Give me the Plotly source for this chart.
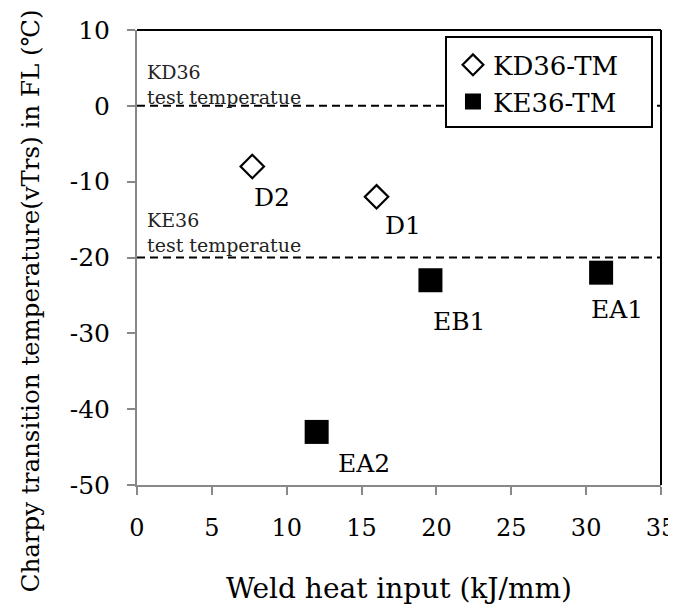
import plotly.graph_objects as go

# Data
kd_names = ["D2", "D1"]
kd_x = [7.7, 16.0]
kd_y = [-8, -12]

ke_names = ["EB1", "EA1", "EA2"]
ke_x = [19.6, 31.0, 12.0]
ke_y = [-23, -22, -43]

ref_levels = [0, -20]
ref_labels = ["KD36<br>test temperatue", "KE36<br>test temperatue"]

x_ticks = [0, 5, 10, 15, 20, 25, 30, 35]
y_ticks = [10, 0, -10, -20, -30, -40, -50]
y_ticktext = ["10", "0", "-10", "-20", "-30", "-40", "-50"]

x_title = "Weld heat input (kJ/mm)"
y_title = "Charpy transition temperature(vTrs) in FL (℃)"

FONT = "DejaVu Serif"

fig = go.Figure()

# dashed reference lines
for lv in ref_levels:
    fig.add_shape(type="line", xref="paper", yref="y", x0=0, x1=1.0, y0=lv, y1=lv,
                  line=dict(color="black", width=2, dash="8px,5px"))

# legend frame (white-filled box that interrupts the dashed line)
fig.add_shape(type="rect", xref="paper", yref="paper", x0=0.5897, x1=0.9828, y0=0.7868, y1=0.9846,
              line=dict(color="black", width=2), fillcolor="white", layer="above")

fig.add_trace(go.Scatter(
    x=kd_x, y=kd_y, mode="markers", name="KD36-TM",
    marker=dict(symbol="diamond-open", size=18, color="black", line=dict(width=2.2, color="black")),
))
fig.add_trace(go.Scatter(
    x=ke_x, y=ke_y, mode="markers", name="KE36-TM",
    marker=dict(symbol="square", size=24, color="black"),
))

# point labels (offsets from each point, in data units)
label_off = {"D2": (1.3, -4.15), "D1": (1.77, -3.72), "EB1": (1.97, -5.5), "EA1": (1.06, -4.9), "EA2": (3.16, -4.2)}
for n, x, y in zip(kd_names + ke_names, kd_x + ke_x, kd_y + ke_y):
    dx, dy = label_off[n]
    fig.add_annotation(x=x + dx, y=y + dy, text=n, showarrow=False,
                       font=dict(family=FONT, size=25, color="black"))

ref_label_off = [2.8, 3.35]
for lv, t, off in zip(ref_levels, ref_labels, ref_label_off):
    fig.add_annotation(x=0.53, y=lv + off, text=t, showarrow=False, xanchor="left", yanchor="middle",
                       align="left", font=dict(family=FONT, size=19, color="#222"))

# y-axis title (placed like the reference: slightly below the axis centre)
fig.add_annotation(xref="paper", yref="paper", x=-0.204, y=0.404, text=y_title, textangle=-90,
                   showarrow=False, xanchor="center", yanchor="middle",
                   font=dict(family=FONT, size=24.5, color="black"))

# top and right frame lines
fig.add_shape(type="line", xref="paper", yref="paper", x0=0, x1=1, y0=1, y1=1,
              line=dict(color="black", width=2))
fig.add_shape(type="line", xref="paper", yref="paper", x0=1, x1=1, y0=0, y1=1,
              line=dict(color="black", width=2))

fig.update_layout(
    width=668, height=600,
    margin=dict(l=129, r=15, t=22, b=123),
    paper_bgcolor="white", plot_bgcolor="white",
    font=dict(family=FONT, size=22, color="black"),
    showlegend=True,
    legend=dict(x=0.603, y=0.975, xanchor="left", yanchor="top",
                borderwidth=0, bgcolor="rgba(0,0,0,0)",
                font=dict(family=FONT, size=26), tracegroupgap=0),
    xaxis=dict(range=[0, 35], tickvals=x_ticks, showgrid=False, zeroline=False, automargin=False,
               showline=True, linecolor="#888", linewidth=2, ticklabeloverflow="allow",
               ticks="outside", ticklen=8, tickcolor="#888", tickwidth=2, ticklabelstandoff=12,
               tickfont=dict(family=FONT, size=24),
               title=dict(text=x_title, font=dict(family=FONT, size=28), standoff=38)),
    yaxis=dict(range=[-50, 10], tickvals=y_ticks, ticktext=y_ticktext, showgrid=False, zeroline=False,
               automargin=False,
               showline=True, linecolor="#888", linewidth=2,
               ticks="outside", ticklen=8, tickcolor="#888", tickwidth=2, ticklabelstandoff=12,
               tickfont=dict(family=FONT, size=25)),
)

fig.write_html("out.html")
